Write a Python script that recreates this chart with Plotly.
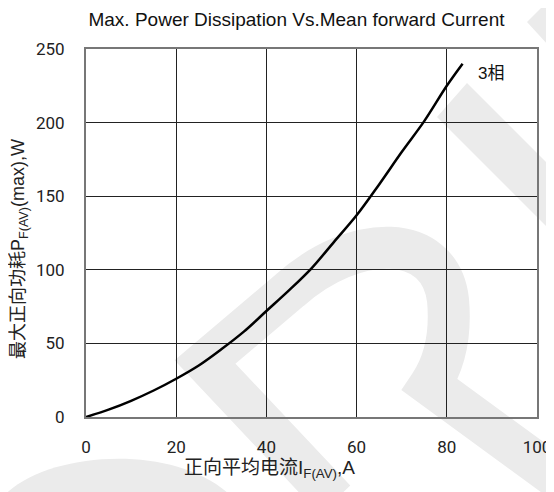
import plotly.graph_objects as go

# Data
current_a = [0, 5, 10, 15, 20, 25, 30, 35, 40, 45, 50, 55, 60, 65, 70, 75, 80, 83.5]
power_w = [0, 5, 11, 18, 26, 35, 46, 58, 72, 86, 101, 119, 137, 158, 180, 201, 225, 240]
x_ticks = [0, 20, 40, 60, 80, 100]
y_ticks = [0, 50, 100, 150, 200, 250]
series_label = "3相"

W, H = 554, 492          # browser window
O = 8                    # default page body margin
L, R, T, B = 86, 537, 49, 417  # plot area in window pixels
FW, FH = W - O, H - O    # figure size so it fits in the window


def px(x, y):
    return (x - L) / (R - L), (B - y) / (B - T)


def path_from(points, close=False):
    s = ""
    for cmd, pts in points:
        s += cmd
        s += " ".join("%.4f,%.4f" % px(*p) for p in pts) + " "
    if close:
        s += "Z"
    return s


wm = "#ebebeb"
shapes = [
    dict(type="path", xref="paper", yref="paper", layer="below", line=dict(width=0), fillcolor=wm,
         path=path_from([("M", [(527, 22)]), ("L", [(549, 0)]), ("L", [(560, 0)]), ("L", [(560, 58)])], True)),
    dict(type="path", xref="paper", yref="paper", layer="below", line=dict(width=0), fillcolor=wm,
         path=path_from([("M", [(437, 117)]), ("L", [(467, 83)]), ("L", [(560, 176)]), ("L", [(560, 240)])], True)),
    dict(type="path", xref="paper", yref="paper", layer="below", line=dict(color=wm, width=42),
         path=path_from([("M", [(335, 500)]), ("L", [(205, 362)]), ("L", [(290, 290)]),
                         ("C", [(355, 232), (440, 232), (448, 300)]),
                         ("C", [(452, 345), (440, 370), (430, 385)]), ("L", [(560, 480)])])),
    dict(type="path", xref="paper", yref="paper", layer="below", line=dict(width=0), fillcolor=wm,
         path=path_from([("M", [(0, 500)]), ("C", [(40, 450), (180, 440), (235, 500)])], True)),
]

fig = go.Figure()
fig.add_trace(go.Scatter(x=current_a, y=power_w, mode="lines", line=dict(color="black", width=2.5, shape="spline"),
                         showlegend=False, hoverinfo="skip"))

fig.update_layout(
    width=FW, height=FH,
    margin=dict(l=L - O, r=W - R, t=T - O, b=H - B, autoexpand=False),
    paper_bgcolor="white", plot_bgcolor="rgba(0,0,0,0)",
    shapes=shapes,
    title=dict(text="Max. Power Dissipation Vs.Mean forward Current", x=(296.5 - O) / FW, xanchor="center",
               xref="container", y=1 - (19 - O) / FH, yanchor="middle",
               font=dict(family="Liberation Sans, Arial", size=19, color="#111")),
    font=dict(family="Roboto", size=17, color="#222"),
    annotations=[
        dict(text=series_label, x=89.8, y=233.5, xref="x", yref="y", showarrow=False,
             xanchor="center", yanchor="middle",
             font=dict(family="Liberation Sans, Noto Sans CJK SC", size=17, color="#111")),
        dict(text="正向平均电流I<sub>F(AV)</sub>,A", x=(269 - L) / (R - L), y=(B - 469) / (B - T),
             xref="paper", yref="paper", showarrow=False, xanchor="center", yanchor="middle",
             font=dict(family="Liberation Sans, Noto Sans CJK SC", size=19, color="#222")),
        dict(text="最大正向功耗P<sub>F(AV)</sub>(max),W", x=(19 - L) / (R - L), y=(B - 249) / (B - T),
             xref="paper", yref="paper", showarrow=False, textangle=-90, xanchor="center", yanchor="middle",
             font=dict(family="Liberation Sans, Noto Sans CJK SC", size=18, color="#222")),
    ],
)
fig.update_xaxes(range=[0, 100], tickvals=x_ticks, showgrid=True, gridcolor="#222", gridwidth=1,
                 showline=True, linecolor="#777", linewidth=2, mirror=True, zeroline=False,
                 ticks="", ticklabelstandoff=14, automargin=False)
fig.update_yaxes(range=[0, 250], tickvals=y_ticks, showgrid=True, gridcolor="#222", gridwidth=1,
                 showline=True, linecolor="#777", linewidth=2, mirror=True, zeroline=False,
                 ticks="", ticklabelstandoff=16, automargin=False)

fig.write_html("out.html")
